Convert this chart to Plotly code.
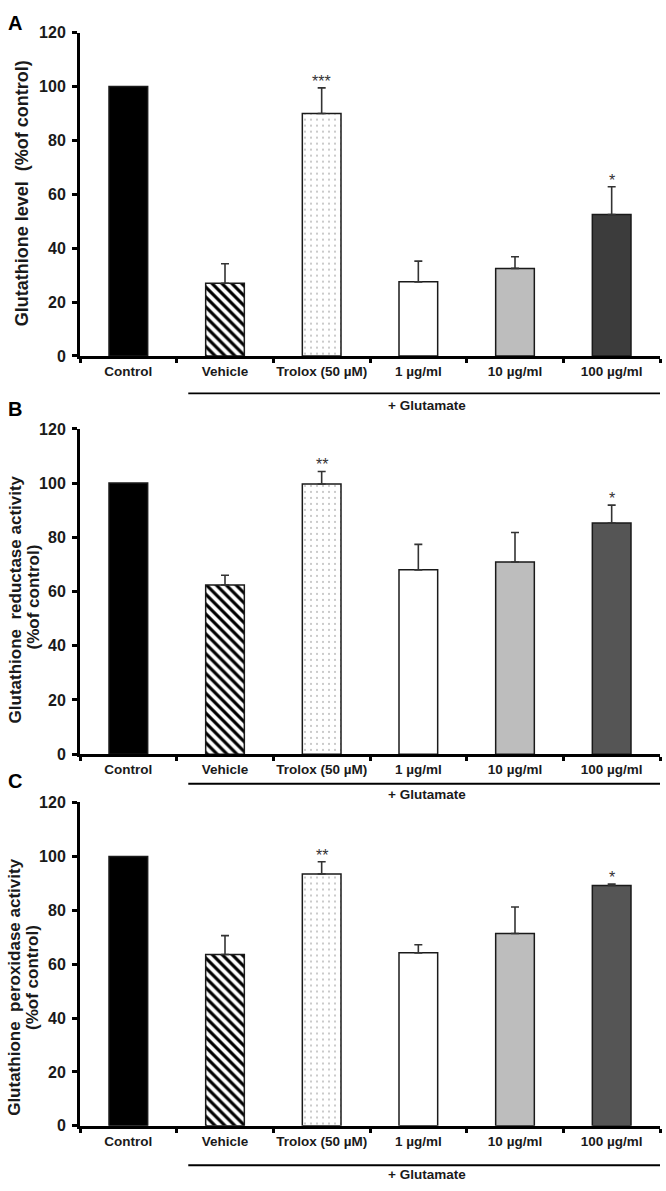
import plotly.graph_objects as go

W, H = 666, 1191

categories = ["Control", "Vehicle", "Trolox (50 µM)", "1 µg/ml", "10 µg/ml", "100 µg/ml"]
y_ticks = [0, 20, 40, 60, 80, 100, 120]

# Panel A: Glutathione level
a_mean = [100, 27.0, 90.0, 27.5, 32.5, 52.5]
a_err = [None, 7.2, 9.5, 7.7, 4.3, 10.3]
a_sig = ["", "", "***", "", "", "*"]

# Panel B: Glutathione reductase activity
b_mean = [100, 62.4, 99.7, 68.0, 70.9, 85.3]
b_err = [None, 3.6, 4.6, 9.4, 10.9, 6.6]
b_sig = ["", "", "**", "", "", "*"]

# Panel C: Glutathione peroxidase activity
c_mean = [100, 63.6, 93.5, 64.2, 71.4, 89.2]
c_err = [None, 7.0, 4.5, 3.0, 9.8, 0.5]
c_sig = ["", "", "**", "", "", "*"]

panel_letters = ["A", "B", "C"]
y_titles = [["Glutathione level  (%of control)"],
            ["Glutathione  reductase activity", "(%of control)"],
            ["Glutathione  peroxidase activity", "(%of control)"]]
group_label = "+ Glutamate"

# styling (pixel geometry)
plot_left, plot_right = 80, 660
panels_px = [(25, 353), (427, 757), (806, 1134)]  # (top, bottom) in px
line_px = [391, 787, 1174]
glut_px = [403, 798, 1183]
letter_px = [15, 407, 784]
ytitle_px = [[(22, 188)], [(15, 600), (33, 598)], [(15, 993), (33, 984)]]
ytitle_size = [[18], [17, 17], [17, 17]]
last_color = ["#3c3c3c", "#555555", "#555555"]

FONT = "Liberation Sans, Arial, sans-serif"

def px_x(p):
    return p / W

def px_y(p):
    return 1 - p / H

fig = go.Figure()
means = [a_mean, b_mean, c_mean]
errs = [a_err, b_err, c_err]
sigs = [a_sig, b_sig, c_sig]
xs = list(range(len(categories)))

bar_style = [
    dict(color="black", shape="", fg="black", size=8, sol=0.3),
    dict(color="white", shape="\\", fg="black", size=7, sol=0.45),
    dict(color="white", shape=".", fg="#8a8a8a", size=6, sol=0.06),
    dict(color="white", shape="", fg="black", size=8, sol=0.3),
    dict(color="#bdbdbd", shape="", fg="black", size=8, sol=0.3),
    dict(color=None, shape="", fg="black", size=8, sol=0.3),
]

annotations = []
shapes = []
for i in range(3):
    sfx = "" if i == 0 else str(i + 1)
    for j in xs:
        st = bar_style[j]
        col = st["color"] or last_color[i]
        marker = dict(color=col, line=dict(color="#1a1a1a", width=1.5))
        if st["shape"]:
            marker["pattern"] = dict(shape=st["shape"], fgcolor=st["fg"], bgcolor=col,
                                     size=st["size"], solidity=st["sol"], fillmode="replace")
        e = errs[i][j]
        fig.add_trace(go.Bar(
            x=[xs[j]], y=[means[i][j]], width=0.4,
            xaxis="x" + sfx, yaxis="y" + sfx,
            marker=marker,
            error_y=dict(type="data", symmetric=False, array=[e], arrayminus=[0],
                         color="#333333", thickness=1.6, width=4, visible=e is not None),
            showlegend=False,
        ))
    top, bot = panels_px[i]
    fig.update_layout(**{
        "xaxis" + sfx: dict(
            domain=[px_x(plot_left), px_x(plot_right)],
            anchor="y" + sfx, range=[-0.5, 5.5],
            tickmode="array", tickvals=xs, ticktext=categories,
            ticks="", showline=True, linewidth=3, linecolor="black",
            tickfont=dict(family=FONT, size=13.5, color="#1a1a1a", weight="bold"),
            ticklabelstandoff=1,
            showgrid=False, zeroline=False, fixedrange=True,
            minor=dict(tickmode="array", tickvals=[-0.5 + k for k in range(7)],
                       ticks="outside", ticklen=4, tickwidth=3, tickcolor="black",
                       showgrid=False),
        ),
        "yaxis" + sfx: dict(
            domain=[px_y(bot), px_y(top)],
            anchor="x" + sfx, range=[0, 120],
            tickmode="array", tickvals=y_ticks,
            ticks="outside", ticklen=5, tickwidth=3, tickcolor="black",
            showline=True, linewidth=3, linecolor="black",
            tickfont=dict(family=FONT, size=16, color="#1a1a1a", weight="bold"),
            ticklabelstandoff=3,
            showgrid=False, zeroline=False, fixedrange=True,
        ),
    })
    # significance stars
    for j, s in enumerate(sigs[i]):
        if s:
            e = errs[i][j] or 0
            annotations.append(dict(
                x=j, y=means[i][j] + e, xref="x" + sfx, yref="y" + sfx,
                text=s, showarrow=False, yanchor="bottom", yshift=-4,
                font=dict(family=FONT, size=16, color="#333333"),
            ))
    # group line
    shapes.append(dict(
        type="line", xref="x" + sfx, yref="paper",
        x0=0.62, x1=5.52, y0=px_y(line_px[i]), y1=px_y(line_px[i]),
        line=dict(color="black", width=1.8),
    ))
    annotations.append(dict(
        x=px_x(427), y=px_y(glut_px[i]), xref="paper", yref="paper",
        text=group_label, showarrow=False, xanchor="center", yanchor="middle",
        font=dict(family=FONT, size=13.5, color="#1a1a1a", weight="bold"),
    ))
    annotations.append(dict(
        x=px_x(15), y=px_y(letter_px[i]), xref="paper", yref="paper",
        text=panel_letters[i], showarrow=False, xanchor="center", yanchor="middle",
        font=dict(family=FONT, size=20, color="black", weight="bold"),
    ))
    for k, line in enumerate(y_titles[i]):
        tx, ty = ytitle_px[i][k]
        annotations.append(dict(
            x=px_x(tx), y=px_y(ty), xref="paper", yref="paper",
            text=line, showarrow=False, textangle=-90,
            xanchor="center", yanchor="middle",
            font=dict(family=FONT, size=ytitle_size[i][k], color="#1a1a1a", weight="bold"),
        ))

fig.update_layout(
    width=W, height=H,
    margin=dict(l=0, r=0, t=0, b=0),
    paper_bgcolor="white", plot_bgcolor="white",
    barmode="overlay",
    annotations=annotations, shapes=shapes,
)

fig.write_html("out.html", config={"displayModeBar": False},
               post_script="document.body.style.margin='0';document.body.style.overflow='hidden';")
